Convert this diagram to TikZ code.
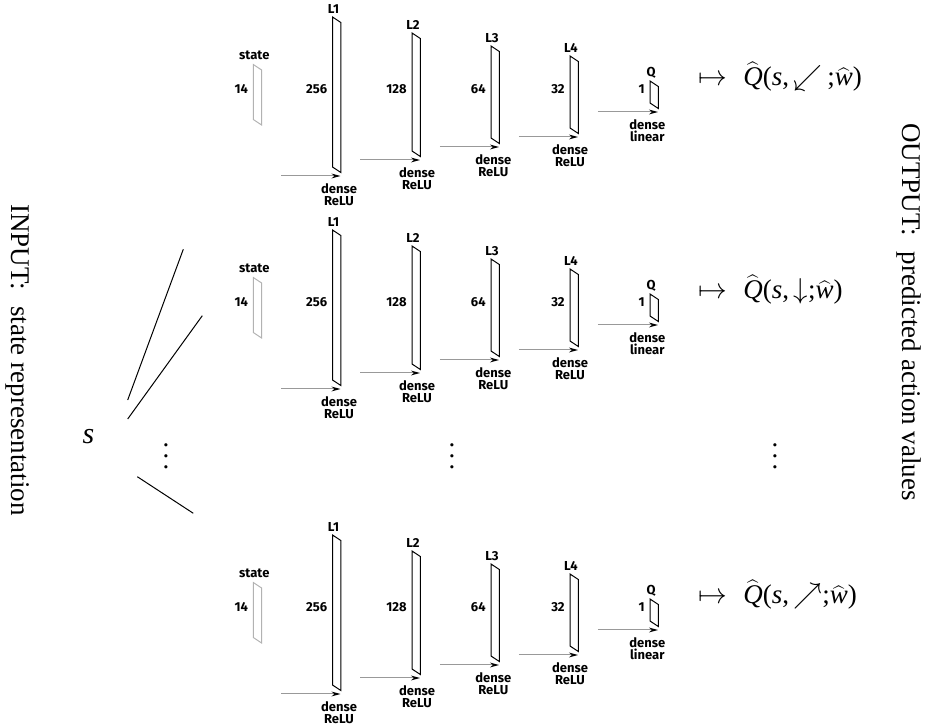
\documentclass[tikz,border=0pt]{standalone}
\usepackage{fontspec}
\setmainfont{Liberation Serif}
\newfontfamily\netfont{Fira Sans}
\usetikzlibrary{arrows.meta}

% output expression: maps to Q-hat(s, action; w-hat)
\newcommand{\qhatsym}{$\widehat{\mbox{\itshape Q}}$}
\newcommand{\whatsym}{$\widehat{\mbox{\itshape w}}$}
\newcommand{\actionvalue}[1]{$\mapsto$\hspace{0.6em}\qhatsym(\textit{s},\,$#1$;\whatsym)}
% vertical ellipsis with wider spacing
\newcommand{\threedots}{\vbox{\baselineskip=5.5pt\lineskiplimit=-10pt\hbox{.}\hbox{.}\hbox{.}}}

\begin{document}
\begin{tikzpicture}[x=0.5pt,y=-0.5pt,
  netlabel/.style={font=\netfont\bfseries\fontsize{6.5}{5.7}\selectfont, inner sep=0pt},
  layerbox/.style={draw=black, line width=0.5pt},
  inputbox/.style={draw=black!30, line width=0.5pt},
  feed/.style={draw=black!40, line width=0.5pt, -{Stealth[color=black,length=4.5pt,width=2.4pt]}},
  bigtext/.style={font=\fontsize{13.5}{16}\selectfont, inner sep=0pt},
  fan/.style={draw=black, line width=0.5pt},
]
\useasboundingbox (0,0) rectangle (927,726);

% side captions
\node[bigtext,rotate=-90] (input) at (18,360) {INPUT:\hspace{0.6em}state representation};
\node[bigtext,rotate=-90] (output) at (909,312) {OUTPUT:\hspace{0.6em}predicted action values};

% state symbol and fan-out strokes
\node[bigtext] (s) at (88.5,437) {\fontsize{15}{18}\selectfont\textit{s}};
\coordinate (fanA0) at (127.7,400);   \coordinate (fanA1) at (183.3,249.3);
\coordinate (fanB0) at (127.7,419);   \coordinate (fanB1) at (202.3,315.7);
\coordinate (fanC0) at (137.3,476.7); \coordinate (fanC1) at (193.3,513.3);
\draw[fan] (fanA0) -- (fanA1);
\draw[fan] (fanB0) -- (fanB1);
\draw[fan] (fanC0) -- (fanC1);

% ellipses for the omitted networks
\node[bigtext] (dotsL) at (166,456) {\threedots};
\node[bigtext] (dotsM) at (452,456) {\threedots};
\node[bigtext] (dotsR) at (775,456) {\threedots};

% one network per action
\foreach \row/\yc/\act in {1/89/{\swarrow\,}, 2/302/\downarrow, 3/607/\nearrow}{
  % input vector
  \draw[inputbox] (253.3,\yc-24.5) -- ++(8.3,5.5) -- ++(0,55) -- ++(-8.3,-5.5) -- cycle;
  \node[netlabel] (state-top-\row) at (254.3,\yc-33.5) {state};
  \node[netlabel,anchor=east] (state-size-\row) at (248.3,\yc) {14};
  % dense layers
  \foreach \nm/\xl/\h/\sz/\lx/\fn [remember=\xl as \px (initially 253.3)] in
     {L1/332.5/75/256/339/ReLU, L2/412/59/128/417/ReLU, L3/491/46/64/493.3/ReLU,
      L4/570/36/32/570/ReLU, Q/650/11/1/647.3/linear}{
    \draw[layerbox] (\xl,\yc+3-\h) -- ++(8.3,5.5) -- ++(0,2*\h) -- ++(-8.3,-5.5) -- cycle;
    \node[netlabel] (\nm-top-\row) at (\xl+1,\yc-5-\h) {\nm};
    \node[netlabel,anchor=east] (\nm-size-\row) at (\xl-5,\yc) {\sz};
    \coordinate (\nm-src-\row) at (\px+27.8,\yc+12+\h);
    \coordinate (\nm-dst-\row) at (\xl+8,\yc+12+\h);
    \draw[feed] (\nm-src-\row) -- (\nm-dst-\row);
    \node[netlabel,align=center] (\nm-act-\row) at (\lx,\yc+30.5+\h) {dense\\\fn};
  }
  % predicted value
  \node[bigtext,anchor=base west] (value-\row) at (698,\yc-3) {\actionvalue{\act}};
}
\end{tikzpicture}
\end{document}
